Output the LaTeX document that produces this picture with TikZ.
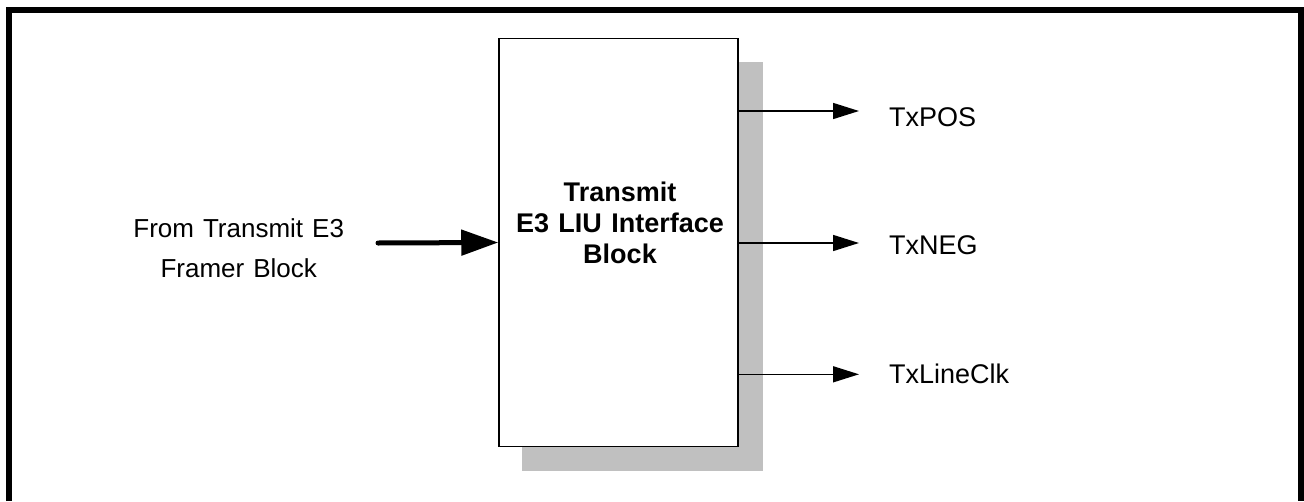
\documentclass[tikz,border=0pt]{standalone}
\usepackage{fontspec}
\setmainfont[WordSpace=1.25]{Liberation Sans}
\usetikzlibrary{arrows.meta}
\begin{document}
\begin{tikzpicture}[x=1pt,y=-1pt,
  lbl/.style={font=\fontsize{27}{31}\selectfont, inner sep=0pt},
  boldlbl/.style={font=\fontsize{27}{31}\selectfont\bfseries, inner sep=0pt, align=center},
  outarrow/.style={line width=1.5pt, -{Triangle[length=26pt,width=16pt]}},
  inarrow/.style={line width=5pt, line cap=round, -{Triangle[length=37pt,width=25pt]}}
]
\useasboundingbox (0,0) rectangle (1304,501);
% frame
\draw[line width=6pt, line join=miter] (9,501) -- (9,10) -- (1301,10) -- (1301,501);
% shadow
\fill[fill={rgb,255:red,192;green,192;blue,192}] (522,61.7) rectangle (763,470.7);
% block
\node[draw, line width=1.5pt, fill=white, minimum width=239pt, minimum height=408.4pt, inner sep=0pt] (blk) at (618.5,242.5) {};
\node[boldlbl] (blktxt) at (620,222.5) {Transmit\\E3 LIU Interface\\Block};
% output coordinates
\coordinate (o1) at (738,111);
\coordinate (o2) at (738,243);
\coordinate (o3) at (738,374.3);
\coordinate (t1) at (859,111);
\coordinate (t2) at (859,243);
\coordinate (t3) at (859,374.3);
\draw[outarrow] (o1) -- (t1);
\draw[outarrow] (o2) -- (t2);
\draw[outarrow] (o3) -- (t3);
\node[lbl, anchor=base west] (pos) at (889,126) {TxPOS};
\node[lbl, anchor=base west] (neg) at (889,254) {TxNEG};
\node[lbl, anchor=base west] (clk) at (889,383) {TxLineClk};
% input
\node[lbl, align=center, font=\fontsize{26}{40}\selectfont] (src) at (238.7,248.5) {From Transmit E3\\Framer Block};
\coordinate (in0) at (378,243);
\draw[inarrow] (in0) -- (blk.west);
\end{tikzpicture}
\end{document}
